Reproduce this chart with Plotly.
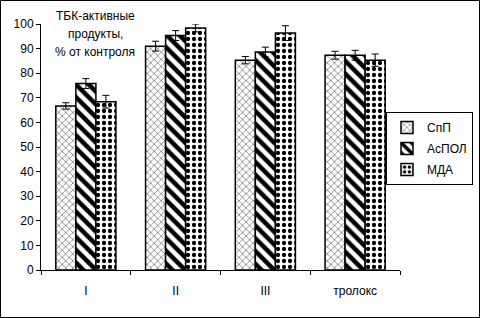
import plotly.graph_objects as go

categories = ["I", "II", "III", "тролокс"]
series_names = ["СпП", "АсПОЛ", "МДА"]
spp = [66.7, 91.0, 85.3, 87.3]
spp_err = [1.3, 2.0, 1.5, 1.6]
aspol = [75.8, 95.3, 88.6, 87.3]
aspol_err = [2.0, 2.0, 2.0, 2.0]
mda = [68.4, 98.4, 96.3, 85.3]
mda_err = [2.6, 1.6, 3.0, 2.5]
y_ticks = [0, 10, 20, 30, 40, 50, 60, 70, 80, 90, 100]
title_lines = ["ТБК-активные", "продукты,", "% от контроля"]

FONT = "Arial, Liberation Sans, sans-serif"
patterns = [dict(shape="x", size=5, solidity=0.15),
            dict(shape="\\", size=9, solidity=0.5),
            dict(shape=".", size=6, solidity=0.4)]
values = [spp, aspol, mda]
errors = [spp_err, aspol_err, mda_err]

fig = go.Figure()
for i, name in enumerate(series_names):
    fig.add_trace(go.Bar(
        x=categories, y=values[i], name=name,
        legendgroup=name,
        marker=dict(color="white",
                    line=dict(color="black", width=1.5),
                    pattern=dict(fgcolor="black", bgcolor="white", fillmode="replace", **patterns[i])),
        error_y=dict(type="data", array=errors[i], color="black", thickness=1, width=3.5),
    ))

L, R, T, B = 41, 400, 24, 270
pw, ph = R - L, B - T
title_y = [16, 34, 52]
annotations = [dict(text=t, xref="paper", yref="paper", x=(95 - L) / pw, y=(B - yy) / ph,
                    xanchor="center", yanchor="middle", showarrow=False,
                    font=dict(size=12, family=FONT, color="black"))
               for t, yy in zip(title_lines, title_y)]

fig.update_layout(
    width=480, height=318,
    margin=dict(l=L, r=480 - R, t=T, b=318 - B, pad=0, autoexpand=False),
    paper_bgcolor="white", plot_bgcolor="white",
    barmode="group", bargap=0.33, bargroupgap=0,
    font=dict(family=FONT, size=12, color="black"),
    showlegend=True,
    legend=dict(x=(386 - L) / pw, y=(B - 112) / ph, xanchor="left", yanchor="top",
                bordercolor="black", borderwidth=1, bgcolor="white",
                font=dict(size=12, family=FONT, color="black"),
                traceorder="grouped", tracegroupgap=2),
    xaxis=dict(type="category", tickson="boundaries", ticks="outside", ticklen=4,
               tickcolor="black", showline=True, linecolor="black", linewidth=1,
               showgrid=False, tickfont=dict(size=12, family=FONT, color="black"),
               ticklabelstandoff=10),
    yaxis=dict(range=[0, 100], tickvals=y_ticks, ticks="outside", ticklen=4,
               tickcolor="black", showline=True, linecolor="black", linewidth=1,
               showgrid=False, zeroline=False,
               tickfont=dict(size=12, family=FONT, color="black")),
    annotations=annotations,
    shapes=[dict(type="rect", xref="paper", yref="paper",
                 x0=(0.5 - L) / pw, x1=(479.5 - L) / pw,
                 y0=(B - 317.5) / ph, y1=(B - 0.5) / ph,
                 line=dict(color="black", width=1), fillcolor="rgba(0,0,0,0)", layer="above")],
)
fig.write_html("out.html", config={"displayModeBar": False},
               post_script="document.body.style.margin='0';")
